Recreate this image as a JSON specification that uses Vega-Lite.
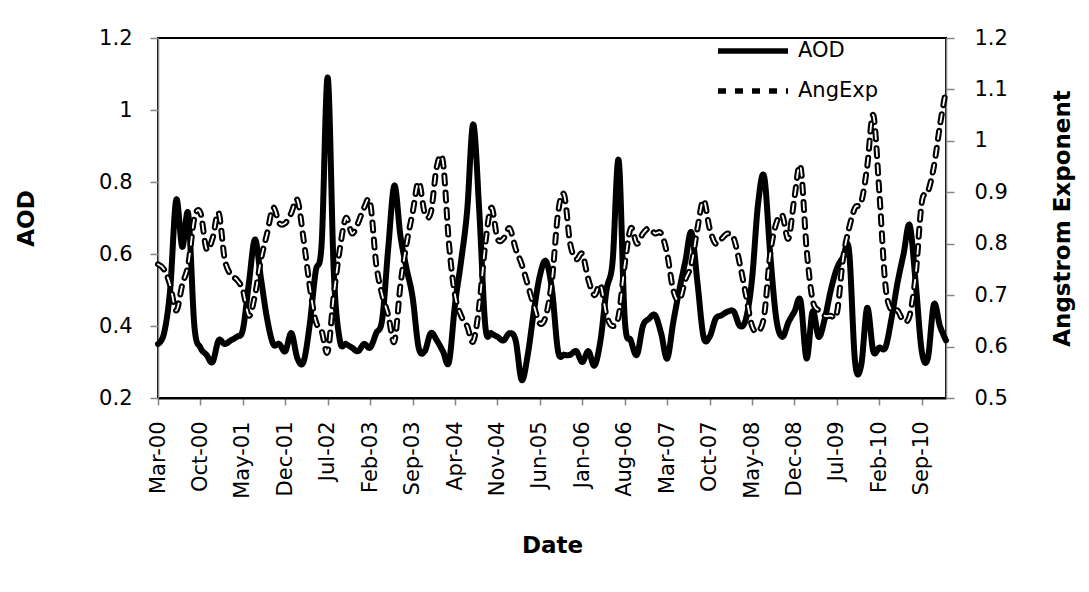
{
  "$schema": "https://vega.github.io/schema/vega-lite/v6.json",
  "autosize": {"type": "none"},
  "width": 788,
  "height": 360,
  "padding": {"left": 158, "top": 38, "right": 143, "bottom": 194},
  "background": "white",
  "config": {
    "view": {"stroke": "black", "strokeWidth": 2},
    "font": "DejaVu Sans",
    "axis": {
      "labelFont": "DejaVu Sans", "labelFontSize": 21, "labelColor": "black",
      "titleFont": "DejaVu Sans", "titleFontSize": 23, "titleFontWeight": "bold", "titleColor": "black",
      "tickColor": "#868686", "tickSize": 8, "tickWidth": 1.5,
      "domainColor": "#868686", "domainWidth": 1.5, "grid": false
    },
    "legend": {
      "labelFont": "DejaVu Sans", "labelFontSize": 21, "labelColor": "black"
    }
  },
  "datasets": {
    "d": [
      {"m": "Mar-00", "AOD": 0.35, "AngExp": 0.76},
      {"m": "Apr-00", "AOD": 0.38, "AngExp": 0.75},
      {"m": "May-00", "AOD": 0.50, "AngExp": 0.72},
      {"m": "Jun-00", "AOD": 0.75, "AngExp": 0.67},
      {"m": "Jul-00", "AOD": 0.62, "AngExp": 0.72},
      {"m": "Aug-00", "AOD": 0.71, "AngExp": 0.76},
      {"m": "Sep-00", "AOD": 0.40, "AngExp": 0.85},
      {"m": "Oct-00", "AOD": 0.34, "AngExp": 0.86},
      {"m": "Nov-00", "AOD": 0.32, "AngExp": 0.79},
      {"m": "Dec-00", "AOD": 0.30, "AngExp": 0.81},
      {"m": "Jan-01", "AOD": 0.36, "AngExp": 0.86},
      {"m": "Feb-01", "AOD": 0.35, "AngExp": 0.77},
      {"m": "Mar-01", "AOD": 0.36, "AngExp": 0.74},
      {"m": "Apr-01", "AOD": 0.37, "AngExp": 0.73},
      {"m": "May-01", "AOD": 0.39, "AngExp": 0.71},
      {"m": "Jun-01", "AOD": 0.52, "AngExp": 0.66},
      {"m": "Jul-01", "AOD": 0.64, "AngExp": 0.70},
      {"m": "Aug-01", "AOD": 0.53, "AngExp": 0.77},
      {"m": "Sep-01", "AOD": 0.42, "AngExp": 0.82},
      {"m": "Oct-01", "AOD": 0.35, "AngExp": 0.87},
      {"m": "Nov-01", "AOD": 0.35, "AngExp": 0.84},
      {"m": "Dec-01", "AOD": 0.33, "AngExp": 0.84},
      {"m": "Jan-02", "AOD": 0.38, "AngExp": 0.86},
      {"m": "Feb-02", "AOD": 0.31, "AngExp": 0.885},
      {"m": "Mar-02", "AOD": 0.30, "AngExp": 0.81},
      {"m": "Apr-02", "AOD": 0.40, "AngExp": 0.72},
      {"m": "May-02", "AOD": 0.55, "AngExp": 0.65},
      {"m": "Jun-02", "AOD": 0.63, "AngExp": 0.63},
      {"m": "Jul-02", "AOD": 1.09, "AngExp": 0.59},
      {"m": "Aug-02", "AOD": 0.55, "AngExp": 0.70},
      {"m": "Sep-02", "AOD": 0.36, "AngExp": 0.79},
      {"m": "Oct-02", "AOD": 0.35, "AngExp": 0.85},
      {"m": "Nov-02", "AOD": 0.34, "AngExp": 0.82},
      {"m": "Dec-02", "AOD": 0.33, "AngExp": 0.84},
      {"m": "Jan-03", "AOD": 0.35, "AngExp": 0.87},
      {"m": "Feb-03", "AOD": 0.34, "AngExp": 0.88},
      {"m": "Mar-03", "AOD": 0.38, "AngExp": 0.76},
      {"m": "Apr-03", "AOD": 0.42, "AngExp": 0.70},
      {"m": "May-03", "AOD": 0.62, "AngExp": 0.66},
      {"m": "Jun-03", "AOD": 0.79, "AngExp": 0.61},
      {"m": "Jul-03", "AOD": 0.65, "AngExp": 0.72},
      {"m": "Aug-03", "AOD": 0.56, "AngExp": 0.80},
      {"m": "Sep-03", "AOD": 0.48, "AngExp": 0.86},
      {"m": "Oct-03", "AOD": 0.34, "AngExp": 0.92},
      {"m": "Nov-03", "AOD": 0.33, "AngExp": 0.86},
      {"m": "Dec-03", "AOD": 0.38, "AngExp": 0.86},
      {"m": "Jan-04", "AOD": 0.36, "AngExp": 0.95},
      {"m": "Feb-04", "AOD": 0.33, "AngExp": 0.96},
      {"m": "Mar-04", "AOD": 0.30, "AngExp": 0.80},
      {"m": "Apr-04", "AOD": 0.46, "AngExp": 0.70},
      {"m": "May-04", "AOD": 0.58, "AngExp": 0.66},
      {"m": "Jun-04", "AOD": 0.72, "AngExp": 0.64},
      {"m": "Jul-04", "AOD": 0.96, "AngExp": 0.61},
      {"m": "Aug-04", "AOD": 0.72, "AngExp": 0.68},
      {"m": "Sep-04", "AOD": 0.40, "AngExp": 0.80},
      {"m": "Oct-04", "AOD": 0.38, "AngExp": 0.87},
      {"m": "Nov-04", "AOD": 0.37, "AngExp": 0.81},
      {"m": "Dec-04", "AOD": 0.36, "AngExp": 0.81},
      {"m": "Jan-05", "AOD": 0.38, "AngExp": 0.83},
      {"m": "Feb-05", "AOD": 0.36, "AngExp": 0.79},
      {"m": "Mar-05", "AOD": 0.25, "AngExp": 0.76},
      {"m": "Apr-05", "AOD": 0.32, "AngExp": 0.72},
      {"m": "May-05", "AOD": 0.44, "AngExp": 0.68},
      {"m": "Jun-05", "AOD": 0.54, "AngExp": 0.645},
      {"m": "Jul-05", "AOD": 0.58, "AngExp": 0.66},
      {"m": "Aug-05", "AOD": 0.50, "AngExp": 0.73},
      {"m": "Sep-05", "AOD": 0.33, "AngExp": 0.86},
      {"m": "Oct-05", "AOD": 0.32, "AngExp": 0.895},
      {"m": "Nov-05", "AOD": 0.32, "AngExp": 0.80},
      {"m": "Dec-05", "AOD": 0.33, "AngExp": 0.77},
      {"m": "Jan-06", "AOD": 0.30, "AngExp": 0.78},
      {"m": "Feb-06", "AOD": 0.33, "AngExp": 0.73},
      {"m": "Mar-06", "AOD": 0.29, "AngExp": 0.70},
      {"m": "Apr-06", "AOD": 0.36, "AngExp": 0.72},
      {"m": "May-06", "AOD": 0.50, "AngExp": 0.66},
      {"m": "Jun-06", "AOD": 0.58, "AngExp": 0.64},
      {"m": "Jul-06", "AOD": 0.86, "AngExp": 0.66},
      {"m": "Aug-06", "AOD": 0.42, "AngExp": 0.76},
      {"m": "Sep-06", "AOD": 0.36, "AngExp": 0.83},
      {"m": "Oct-06", "AOD": 0.32, "AngExp": 0.80},
      {"m": "Nov-06", "AOD": 0.40, "AngExp": 0.82},
      {"m": "Dec-06", "AOD": 0.42, "AngExp": 0.83},
      {"m": "Jan-07", "AOD": 0.43, "AngExp": 0.82},
      {"m": "Feb-07", "AOD": 0.38, "AngExp": 0.82},
      {"m": "Mar-07", "AOD": 0.31, "AngExp": 0.78},
      {"m": "Apr-07", "AOD": 0.41, "AngExp": 0.71},
      {"m": "May-07", "AOD": 0.50, "AngExp": 0.69},
      {"m": "Jun-07", "AOD": 0.58, "AngExp": 0.73},
      {"m": "Jul-07", "AOD": 0.66, "AngExp": 0.76},
      {"m": "Aug-07", "AOD": 0.52, "AngExp": 0.83},
      {"m": "Sep-07", "AOD": 0.37, "AngExp": 0.885},
      {"m": "Oct-07", "AOD": 0.37, "AngExp": 0.83},
      {"m": "Nov-07", "AOD": 0.42, "AngExp": 0.80},
      {"m": "Dec-07", "AOD": 0.43, "AngExp": 0.81},
      {"m": "Jan-08", "AOD": 0.44, "AngExp": 0.82},
      {"m": "Feb-08", "AOD": 0.44, "AngExp": 0.81},
      {"m": "Mar-08", "AOD": 0.40, "AngExp": 0.76},
      {"m": "Apr-08", "AOD": 0.42, "AngExp": 0.70},
      {"m": "May-08", "AOD": 0.53, "AngExp": 0.64},
      {"m": "Jun-08", "AOD": 0.74, "AngExp": 0.63},
      {"m": "Jul-08", "AOD": 0.815, "AngExp": 0.66},
      {"m": "Aug-08", "AOD": 0.60, "AngExp": 0.78},
      {"m": "Sep-08", "AOD": 0.42, "AngExp": 0.84},
      {"m": "Oct-08", "AOD": 0.37, "AngExp": 0.855},
      {"m": "Nov-08", "AOD": 0.41, "AngExp": 0.81},
      {"m": "Dec-08", "AOD": 0.44, "AngExp": 0.89},
      {"m": "Jan-09", "AOD": 0.47, "AngExp": 0.95},
      {"m": "Feb-09", "AOD": 0.31, "AngExp": 0.79},
      {"m": "Mar-09", "AOD": 0.44, "AngExp": 0.69},
      {"m": "Apr-09", "AOD": 0.37, "AngExp": 0.67},
      {"m": "May-09", "AOD": 0.42, "AngExp": 0.66},
      {"m": "Jun-09", "AOD": 0.50, "AngExp": 0.66},
      {"m": "Jul-09", "AOD": 0.56, "AngExp": 0.665},
      {"m": "Aug-09", "AOD": 0.59, "AngExp": 0.77},
      {"m": "Sep-09", "AOD": 0.61, "AngExp": 0.83},
      {"m": "Oct-09", "AOD": 0.30, "AngExp": 0.87},
      {"m": "Nov-09", "AOD": 0.29, "AngExp": 0.88},
      {"m": "Dec-09", "AOD": 0.45, "AngExp": 0.95},
      {"m": "Jan-10", "AOD": 0.33, "AngExp": 1.05},
      {"m": "Feb-10", "AOD": 0.34, "AngExp": 0.90},
      {"m": "Mar-10", "AOD": 0.34, "AngExp": 0.72},
      {"m": "Apr-10", "AOD": 0.42, "AngExp": 0.67},
      {"m": "May-10", "AOD": 0.52, "AngExp": 0.67},
      {"m": "Jun-10", "AOD": 0.60, "AngExp": 0.65},
      {"m": "Jul-10", "AOD": 0.68, "AngExp": 0.66},
      {"m": "Aug-10", "AOD": 0.52, "AngExp": 0.74},
      {"m": "Sep-10", "AOD": 0.33, "AngExp": 0.88},
      {"m": "Oct-10", "AOD": 0.31, "AngExp": 0.90},
      {"m": "Nov-10", "AOD": 0.46, "AngExp": 0.95},
      {"m": "Dec-10", "AOD": 0.40, "AngExp": 1.03},
      {"m": "Jan-11", "AOD": 0.36, "AngExp": 1.10}
    ]
  },
  "data": {"name": "d"},
  "encoding": {
    "x": {
      "field": "m", "type": "ordinal", "sort": null,
      "scale": {"type": "point", "padding": 0},
      "axis": {
        "values": ["Mar-00","Oct-00","May-01","Dec-01","Jul-02","Feb-03","Sep-03","Apr-04","Nov-04","Jun-05","Jan-06","Aug-06","Mar-07","Oct-07","May-08","Dec-08","Jul-09","Feb-10","Sep-10"],
        "labelAngle": 270, "labelPadding": 16, "tickSize": 7, "domainColor": "black", "domainWidth": 2,
        "title": "Date", "titleX": 394, "titleY": 147, "titleAlign": "center", "titleBaseline": "middle"
      }
    }
  },
  "layer": [
    {
      "mark": {"type": "line", "interpolate": "cardinal", "strokeWidth": 6, "strokeCap": "round", "strokeJoin": "round"},
      "encoding": {
        "y": {
          "field": "AOD", "type": "quantitative",
          "scale": {"domain": [0.2, 1.2], "zero": false, "nice": false},
          "axis": {
            "orient": "left", "values": [0.2, 0.4, 0.6, 0.8, 1, 1.2], "format": "~g",
            "labelPadding": 18, "title": "AOD", "titleAngle": 270,
            "titleX": -132, "titleY": 180, "titleAlign": "center", "titleBaseline": "middle"
          }
        },
        "color": {
          "datum": "AOD",
          "scale": {"domain": ["AOD", "AngExp"], "range": ["black", "black"]},
          "legend": {
            "title": null, "orient": "none", "legendX": 557, "legendY": 0,
            "symbolType": "M-1,0H6", "symbolSize": 400, "symbolStrokeWidth": 5.5,
            "labelOffset": 57, "rowPadding": 16
          }
        },
        "strokeDash": {
          "datum": "AOD",
          "scale": {"domain": ["AOD", "AngExp"], "range": [[1, 0], [8, 9]]},
          "legend": {
            "title": null, "orient": "none", "legendX": 557, "legendY": 0,
            "symbolType": "M-1,0H6", "symbolSize": 400, "symbolStrokeWidth": 5.5,
            "labelOffset": 57, "rowPadding": 16
          }
        }
      }
    },
    {
      "mark": {"type": "line", "interpolate": "cardinal", "strokeWidth": 6, "strokeCap": "round", "strokeJoin": "round"},
      "encoding": {
        "y": {
          "field": "AngExp", "type": "quantitative",
          "scale": {"domain": [0.5, 1.2], "zero": false, "nice": false},
          "axis": {
            "orient": "right", "values": [0.5, 0.6, 0.7, 0.8, 0.9, 1, 1.1, 1.2], "format": "~g",
            "labelPadding": 20, "title": "Angstrom Exponent", "titleAngle": 270,
            "titleX": 116, "titleY": 180, "titleAlign": "center", "titleBaseline": "middle"
          }
        },
        "color": {"datum": "AngExp"},
        "strokeDash": {"datum": "AngExp"}
      }
    },
    {
      "mark": {"type": "line", "interpolate": "cardinal", "strokeWidth": 1.8, "strokeCap": "round", "strokeDash": [8, 9], "color": "white"},
      "encoding": {
        "y": {
          "field": "AngExp", "type": "quantitative",
          "scale": {"domain": [0.5, 1.2], "zero": false, "nice": false},
          "axis": null
        }
      }
    }
  ],
  "resolve": {"scale": {"y": "independent"}}
}
